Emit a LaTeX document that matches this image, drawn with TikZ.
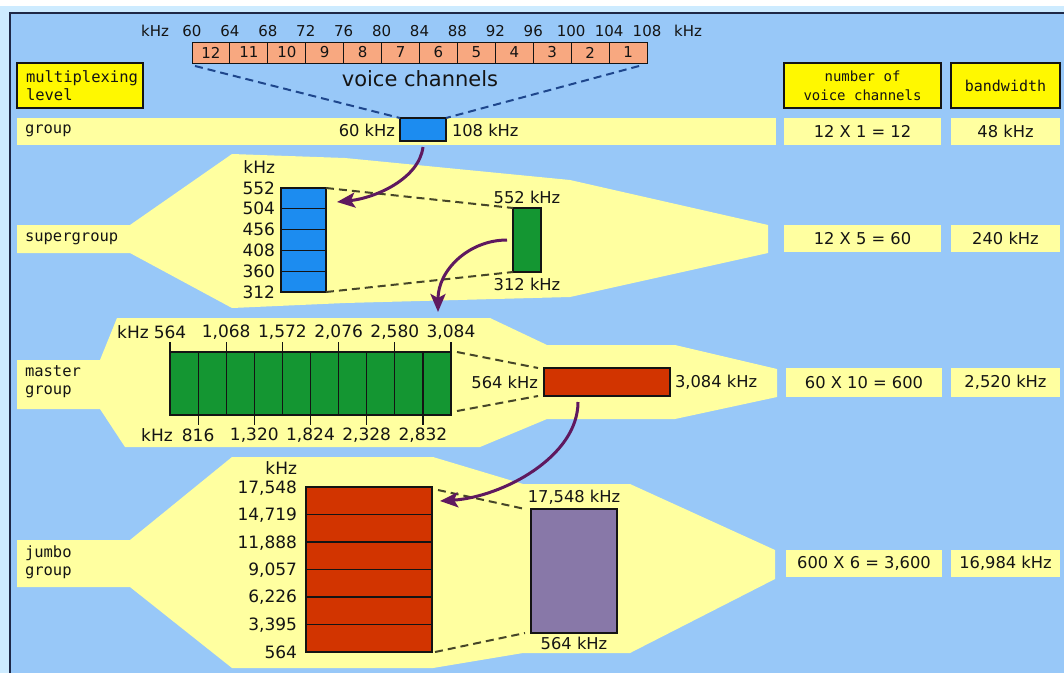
\documentclass[tikz,border=0pt]{standalone}
\usepackage{fontspec}
\setmainfont{DejaVu Sans}
\newfontfamily\monofnt{DejaVu Sans Mono}
\usetikzlibrary{arrows.meta}
\definecolor{bgblue}{RGB}{152,200,248}
\definecolor{outerc}{RGB}{205,235,255}
\definecolor{framec}{RGB}{30,40,70}
\definecolor{lyellow}{RGB}{255,255,160}
\definecolor{hyellow}{RGB}{255,248,0}
\definecolor{salmon}{RGB}{248,168,128}
\definecolor{gblue}{RGB}{28,140,240}
\definecolor{ggreen}{RGB}{20,150,50}
\definecolor{mred}{RGB}{210,52,0}
\definecolor{mpurple}{RGB}{136,120,168}
\definecolor{arrowc}{RGB}{95,25,95}
\definecolor{navyd}{RGB}{30,70,140}
\definecolor{oliv}{RGB}{70,70,40}
\definecolor{ink}{RGB}{20,20,20}
\begin{document}
\begin{tikzpicture}[x=1pt,y=-1pt,
  every node/.style={inner sep=0pt, outer sep=0pt, text=ink},
  box/.style={draw=ink, line width=1.2pt, anchor=north west},
  num/.style={font=\fontsize{16.3}{18}\selectfont},
  lab/.style={font=\fontsize{17}{19}\selectfont},
  scl/.style={font=\fontsize{15}{17}\selectfont},
  mono/.style={font=\monofnt\fontsize{15.5}{18}\selectfont, align=left},
  cell/.style={fill=lyellow, anchor=north west, minimum height=27pt, font=\fontsize{16.3}{18}\selectfont},
  dsh/.style={dash pattern=on 8pt off 5pt, line width=2pt, draw=oliv},
  arr/.style={line width=3pt, draw=arrowc, -{Stealth[length=18pt,width=15pt,inset=4pt]}},
  divl/.style={line width=1.2pt, draw=ink}
]
\useasboundingbox (0,0) rectangle (1064,673);
% background and frame
\fill[outerc] (0,0) rectangle (1064,673);
\fill[white] (0,0) rectangle (1064,6);
\fill[bgblue] (10,13) rectangle (1064,673);
\draw[framec, line width=1.5pt] (10,673) -- (10,13) -- (1064,13);

% ---------- top scale: voice channels ----------
\node[scl] (khzL) at (155,31) {kHz};
\node[scl] (khzR) at (688,31) {kHz};
\foreach \i [evaluate=\i as \x using {192+37.92*\i}, evaluate=\i as \v using {int(60+4*\i)}] in {0,...,12}
  \node[scl] (sc\i) at (\x,31) {\v};
\foreach \i [evaluate=\i as \n using {int(12-\i)}] in {0,...,11}
  \node[box, line width=1pt, fill=salmon, minimum width=37.92pt, minimum height=21pt, font=\fontsize{15}{17}\selectfont] (vc\i) at ({192+37.92*\i},42) {\n};
\node[font=\fontsize{21}{24}\selectfont] (vch) at (420,79) {voice channels};

% ---------- headers ----------
\node[box, fill=hyellow, minimum width=126pt, minimum height=45pt, text width=108pt, mono] (h1) at (17,63) {multiplexing\\level};
\node[box, fill=hyellow, minimum width=157pt, minimum height=45pt, align=center, font=\monofnt\fontsize{14}{19}\selectfont] (h2) at (784,63) {number of\\voice channels};
\node[box, fill=hyellow, minimum width=109pt, minimum height=45pt, font=\monofnt\fontsize{15}{18}\selectfont] (h3) at (951,63) {bandwidth};

% ---------- group ----------
\fill[lyellow] (17,118) rectangle (776,145);
\node[mono, anchor=west] (lgroup) at (25,131) {group};
\node[box, fill=gblue, minimum width=46pt, minimum height=23pt] (g) at (400,118) {};
\node[num, anchor=east] (g60) at ([xshift=-5pt,yshift=-1pt]g.west) {60 kHz};
\node[num, anchor=west] (g108) at ([xshift=6pt,yshift=-1pt]g.east) {108 kHz};
\draw[dsh, draw=navyd] ([xshift=3pt,yshift=-3pt]vc0.south west) -- (g.north west);
\draw[dsh, draw=navyd] ([xshift=-8pt,yshift=-3pt]vc11.south east) -- (g.north east);
\node[cell, minimum width=157pt] (c1a) at (784,118) {12 X 1 = 12};
\node[cell, minimum width=109pt] (c1b) at (951,118) {48 kHz};

% ---------- supergroup ----------
\fill[lyellow] (17,225) -- (130,225) -- (232,154) -- (345,158) -- (570,180) -- (768,225) -- (768,253)
  -- (570,297) -- (345,303) -- (232,308) -- (130,253) -- (17,253) -- cycle;
\node[mono, anchor=west] (lsuper) at (25,239) {supergroup};
\node[box, fill=gblue, minimum width=45pt, minimum height=104pt] (sb) at (281,188) {};
\foreach \k in {1,...,4} \draw[divl] (281,{188+20.8*\k}) -- (326,{188+20.8*\k});
\node[lab, anchor=east] (skhz) at (275,167) {kHz};
\foreach \v [count=\k from 0] in {552,504,456,408,360,312}
  \node[lab, anchor=east] (sl\k) at (275,{188+20.8*\k}) {\v};
\node[box, fill=ggreen, minimum width=28pt, minimum height=64pt] (sg) at (513,208) {};
\node[num, anchor=south] (sg552) at ([yshift=4pt]sg.north) {552 kHz};
\node[num, anchor=north] (sg312) at ([yshift=-6pt]sg.south) {312 kHz};
\draw[dsh] (sb.north east) -- (sg.north west);
\draw[dsh] (sb.south east) -- (sg.south west);
\node[cell, minimum width=157pt] (c2a) at (784,225) {12 X 5 = 60};
\node[cell, minimum width=109pt] (c2b) at (951,225) {240 kHz};

% ---------- master group ----------
\fill[lyellow] (17,360) -- (100,360) -- (117,318) -- (490,318) -- (547,345) -- (675,345) -- (777,369)
  -- (777,397) -- (675,419) -- (547,419) -- (480,447) -- (125,447) -- (100,409) -- (17,409) -- cycle;
\node[mono, anchor=north west] (lmaster) at (25,366) {master\\group};
\node[box, fill=ggreen, minimum width=281pt, minimum height=63pt] (mg) at (170,352) {};
\foreach \k in {1,...,9} \draw[divl] ({170+28.1*\k},352) -- ({170+28.1*\k},415);
\foreach \k in {0,2,...,10} \draw[divl] ({170+28.1*\k},352) -- ({170+28.1*\k},342);
\foreach \k in {1,3,...,9} \draw[divl] ({170+28.1*\k},415) -- ({170+28.1*\k},425);
\node[lab] (mkhzT) at (133,332) {kHz};
\node[lab] (mkhzB) at (157,435) {kHz};
\foreach \v [count=\k from 0] in {564,{1,068},{1,572},{2,076},{2,580},{3,084}}
  \node[lab] (mt\k) at ({170+56.2*\k},332) {\v};
\foreach \v [count=\k from 0] in {816,{1,320},{1,824},{2,328},{2,832}}
  \node[lab] (mb\k) at ({198.1+56.2*\k},435) {\v};
\node[box, fill=mred, minimum width=126pt, minimum height=28pt] (rb) at (544,368) {};
\node[num, anchor=east] (rb564) at ([xshift=-6pt]rb.west) {564 kHz};
\node[num, anchor=west] (rb3084) at ([xshift=5pt]rb.east) {3,084 kHz};
\draw[dsh] ([xshift=6pt]mg.north east) -- ([xshift=-6pt]rb.north west);
\draw[dsh] ([xshift=6pt,yshift=4pt]mg.south east) -- ([xshift=-6pt]rb.south west);
\node[cell, minimum width=156pt, minimum height=29pt] (c3a) at (786,368) {60 X 10 = 600};
\node[cell, minimum width=109pt, minimum height=29pt] (c3b) at (951,368) {2,520 kHz};

% ---------- jumbo group ----------
\fill[lyellow] (17,540) -- (130,540) -- (232,457) -- (433,457) -- (523,484) -- (630,484) -- (775,550)
  -- (775,579) -- (630,653) -- (523,653) -- (433,668) -- (232,668) -- (130,587) -- (17,587) -- cycle;
\node[mono, anchor=north west] (ljumbo) at (25,546) {jumbo\\group};
\node[box, fill=mred, minimum width=126pt, minimum height=165pt] (jr) at (306,487) {};
\foreach \k in {1,...,5} \draw[divl] (306,{487+27.5*\k}) -- (432,{487+27.5*\k});
\node[lab, anchor=east] (jkhz) at (297,468) {kHz};
\foreach \v [count=\k from 0] in {{17,548},{14,719},{11,888},{9,057},{6,226},{3,395},564}
  \node[lab, anchor=east] (jl\k) at (297,{488+27.4*\k}) {\v};
\node[box, fill=mpurple, minimum width=86pt, minimum height=124pt] (pb) at (531,509) {};
\node[num, anchor=south] (pbT) at ([yshift=5pt]pb.north) {17,548 kHz};
\node[num, anchor=north] (pbB) at ([yshift=-4pt]pb.south) {564 kHz};
\draw[dsh] ([xshift=6pt,yshift=-3pt]jr.north east) -- ([xshift=-6pt]pb.north west);
\draw[dsh] ([xshift=3pt]jr.south east) -- ([xshift=-6pt]pb.south west);
\node[cell, minimum width=156pt] (c4a) at (786,550) {600 X 6 = 3,600};
\node[cell, minimum width=109pt] (c4b) at (951,550) {16,984 kHz};

% ---------- arrows ----------
\draw[arr] ([yshift=-6pt]g.south) .. controls +(-4,32) and +(38,-4) .. ([xshift=11pt,yshift=-14pt]sb.north east);
\draw[arr] ([xshift=-6pt]sg.west) .. controls +(-38,0) and +(0,-42) .. ([xshift=-13pt,yshift=40pt]mg.north east);
\draw[arr] ([xshift=-29pt,yshift=-6pt]rb.south) .. controls +(0,55) and +(62,-4) .. ([xshift=8pt,yshift=-14pt]jr.north east);
\end{tikzpicture}
\end{document}
